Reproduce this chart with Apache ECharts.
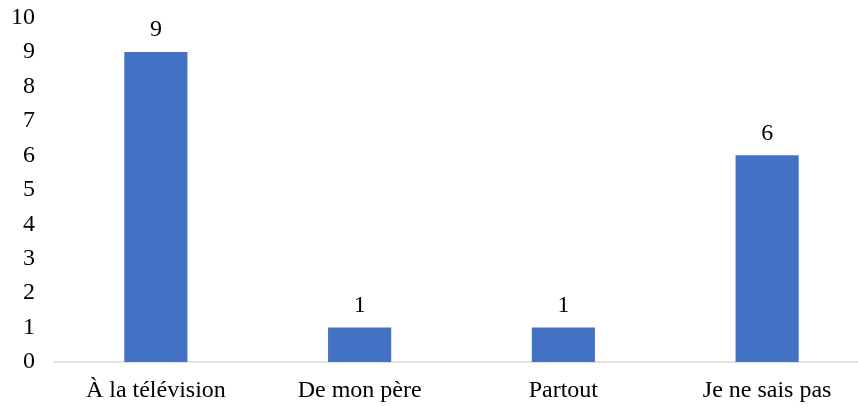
<!DOCTYPE html>
<html>
<head>
<meta charset="utf-8">
<script src="https://cdn.jsdelivr.net/npm/echarts@6/dist/echarts.min.js"></script>
<style>
  html, body { margin: 0; padding: 0; background: #fff; }
  #chart { width: 858px; height: 406px; }
</style>
</head>
<body>
<div id="chart"></div>
<script>
// data
var categories = ['À la télévision', 'De mon père', 'Partout', 'Je ne sais pas'];
var counts = [9, 1, 1, 6];

var chart = echarts.init(document.getElementById('chart'));
var font = '"Liberation Serif", "Times New Roman", serif';

chart.setOption({
  animation: false,
  // the plot runs a little past the right edge of the picture
  grid: { left: 54, width: 815, top: 17.6, bottom: 44, outerBoundsMode: 'none' },
  xAxis: {
    type: 'category',
    data: categories,
    axisLine: { lineStyle: { color: '#d9d9d9', width: 1.5 } },
    axisTick: { show: false },
    axisLabel: { color: '#000', fontFamily: font, fontSize: 24, margin: 17 }
  },
  yAxis: {
    type: 'value',
    min: 0,
    max: 10,
    interval: 1,
    splitLine: { show: false },
    axisLine: { show: false },
    axisTick: { show: false },
    axisLabel: { color: '#000', fontFamily: font, fontSize: 24, margin: 19 }
  },
  series: [{
    type: 'bar',
    data: counts,
    barWidth: '31%',
    itemStyle: { color: '#4472c4' },
    label: {
      show: true,
      position: 'top',
      distance: 10,
      color: '#000',
      fontFamily: font,
      fontSize: 24
    }
  }]
});
</script>
</body>
</html>
